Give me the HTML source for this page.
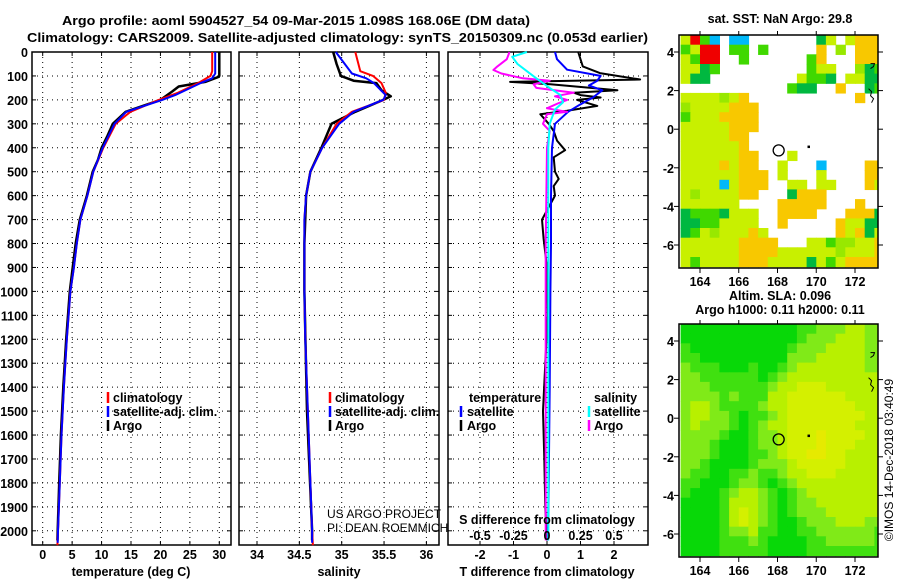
<!DOCTYPE html>
<html><head><meta charset="utf-8">
<style>
html,body{margin:0;padding:0;background:#fff;}
svg{display:block;font-family:"Liberation Sans",Arial,sans-serif;}
.b{font-weight:bold;font-size:12.5px;fill:#000;}
</style></head>
<body>
<svg id="fig" width="900" height="580" viewBox="0 0 900 580" xmlns="http://www.w3.org/2000/svg">
<text class="b" x="62" y="25" textLength="468" lengthAdjust="spacingAndGlyphs">Argo profile: aoml 5904527_54 09-Mar-2015 1.098S 168.06E (DM data)</text>
<text class="b" x="27" y="42" textLength="621" lengthAdjust="spacingAndGlyphs">Climatology: CARS2009. Satellite-adjusted climatology: synTS_20150309.nc (0.053d earlier)</text>
<g id="plots"></g>
<g id="maps"></g>
<text x="893" y="460" font-size="12" text-anchor="middle" transform="rotate(-90 893 460)">©IMOS 14-Dec-2018 03:40:49</text>
</svg>
<script>
// ---------- data ----------
const depthTicks = [0,100,200,300,400,500,600,700,800,900,1000,1100,1200,1300,1400,1500,1600,1700,1800,1900,2000];
const tempTicks = [0,5,10,15,20,25,30];
const salTicks = [34,34.5,35,35.5,36];
const salTickLabels = ['34','34.5','35','35.5','36'];
const tdiffTicks = [-2,-1,0,1,2];
const sdiffTicks = [-0.5,-0.25,0,0.25,0.5];
const sdiffTickLabels = ['-0.5','-0.25','0','0.25','0.5'];

const climDepth = [0,80,100,130,170,200,250,300,400,500,600,700,800,900,1000,1200,1400,1600,1800,2000,2060];
const climTemp  = [28.8,28.8,28.5,26.4,23.0,19.7,14.9,12.4,10.3,8.6,7.6,6.4,5.8,5.3,4.7,4.1,3.6,3.2,2.9,2.6,2.5];
const climSal   = [35.16,35.22,35.37,35.47,35.52,35.50,35.12,34.94,34.77,34.63,34.58,34.56,34.56,34.56,34.56,34.57,34.59,34.61,34.63,34.65,34.66];

const satDepth = [0,90,110,130,180,200,250,300,400,500,600,700,800,900,1000,1200,1400,1600,1800,2000,2050];
const satTemp  = [29.3,29.3,28.8,26.8,22.5,20.3,14.2,12.2,10.2,8.6,7.6,6.4,5.8,5.3,4.7,4.1,3.6,3.2,2.9,2.6,2.55];
const satSal   = [34.93,35.12,35.29,35.38,35.52,35.49,35.14,34.97,34.77,34.63,34.58,34.56,34.56,34.56,34.56,34.57,34.59,34.61,34.63,34.65,34.65];

const argoDepth = [0,100,105,125,144,165,200,250,300,350,400,450,500,600,700,800,900,1000,1200,1400,1600,1800,2000,2040];
const argoTemp  = [30.0,30.0,29.8,27.6,23.1,22.0,20.0,14.1,11.9,11.0,10.0,9.4,8.5,7.5,6.3,5.6,5.1,4.6,4.0,3.5,3.1,2.8,2.55,2.5];
const argoSalDepth = [0,50,100,120,130,160,185,200,250,300,400,500,600,800,1000,1500,2000,2040];
const argoSal      = [34.90,34.94,34.99,35.14,35.41,35.47,35.58,35.49,35.16,34.88,34.76,34.63,34.58,34.56,34.56,34.59,34.65,34.65];

const tdArgoDepth = [0,60,88,115,125,135,160,170,180,190,200,225,245,260,300,330,370,410,440,500,530,560,600,700,780,900,1100,1300,1500,1700,1900,2040];
const tdArgo      = [0.93,1.07,1.58,2.78,-1.1,0.1,2.1,0.8,1.0,1.6,0.9,1.5,0.6,-0.2,0.05,0.2,0.3,0.54,0.2,0.24,0.35,0.2,0.24,-0.15,-0.1,0.0,0.02,-0.05,-0.12,-0.08,-0.05,0.0];
const tdSatDepth = [0,30,74,100,120,140,160,190,220,250,300,400,600,800,1000,1400,1800,2040];
const tdSat      = [0.24,0.3,0.6,1.6,1.5,1.25,1.65,1.37,0.98,0.63,0.24,0.15,0.12,0.12,0.1,0.08,0.05,0.03];
const sdArgoDepth = [0,30,60,75,90,110,120,135,150,170,185,200,215,235,250,260,300,330,400,800,1200,1600,2040];
const sdArgo      = [-0.28,-0.3,-0.37,-0.4,-0.34,-0.18,0.02,-0.1,-0.08,0.2,0.06,0.15,0.08,0.0,0.15,0.0,-0.03,0.02,0.0,-0.01,-0.01,-0.01,-0.01];
const sdSatDepth = [0,20,50,80,110,150,180,210,240,300,400,800,1200,1600,2040];
const sdSat      = [-0.15,-0.26,-0.22,-0.15,-0.08,0.02,0.1,0.12,0.06,0.02,0.01,0.01,0.01,0.01,0.01];

// ---------- helpers ----------
const NS='http://www.w3.org/2000/svg';
function mk(tag,attrs,parent){const e=document.createElementNS(NS,tag);for(const k in attrs)e.setAttribute(k,attrs[k]);parent.appendChild(e);return e;}
const plots=document.getElementById('plots');
const TOP=52, BOT=545;
function yD(d){return TOP + d*0.2394;}
function lin(v0,p0,v1,p1){return v=>p0+(v-v0)*(p1-p0)/(v1-v0);}
const xT=lin(0,42.7,30,219.3);
const xS=lin(34,257,35,341.7);
const xTD=lin(0,547,1,580.5);
const xSD=lin(0,547,0.5,614);

function panel(name,x0,x1,gridX){
  const g=mk('g',{},plots);
  
  
  for(const d of depthTicks){
    const l=mk('line',{x1:x0,x2:x1,y1:yD(d),y2:yD(d),stroke:'#000','stroke-width':1,'stroke-dasharray':'1 4'},g);
    
    
    mk('line',{x1:x0,x2:x0+4,y1:yD(d),y2:yD(d),stroke:'#000'},g);
    mk('line',{x1:x1-4,x2:x1,y1:yD(d),y2:yD(d),stroke:'#000'},g);
  }
  for(const gx of gridX){
    const l=mk('line',{x1:gx,x2:gx,y1:TOP,y2:BOT,stroke:'#000','stroke-width':1,'stroke-dasharray':'1 4'},g);
    
    
    mk('line',{x1:gx,x2:gx,y1:BOT-4,y2:BOT,stroke:'#000'},g);
    mk('line',{x1:gx,x2:gx,y1:TOP,y2:TOP+4,stroke:'#000'},g);
  }
  const r=mk('rect',{x:x0,y:TOP,width:x1-x0,height:BOT-TOP,fill:'none',stroke:'#000','stroke-width':1.5},g);
  
  
  return g;
}
function line(g,name,xs,ds,fx,color,w){
  const pts=xs.map((v,i)=>fx(v).toFixed(1)+','+yD(ds[i]).toFixed(1)).join(' ');
  const p=mk('polyline',{points:pts,fill:'none',stroke:color,'stroke-width':w,'stroke-linejoin':'round'},g);
  
  
}
function text(g,name,x,y,s,opts){
  const t=mk('text',Object.assign({x:x,y:y,class:'b'},opts||{}),g);
  t.textContent=s;
  
  
  return t;
}
function legBar(g,x,y,color){
  const b=mk('line',{x1:x,x2:x,y1:y-10,y2:y+1,stroke:color,'stroke-width':2.5},g);
  
  
}

// depth labels
const yl=mk('g',{},plots);


for(const d of depthTicks){
  const t=text(yl,'depth-tick-label',28,yD(d)+5,String(d),{'text-anchor':'end'});
}

// panel 1: temperature
const p1=panel('temperature-panel',32,231,tempTicks.map(xT));
line(p1,'argo-temperature-line',argoTemp,argoDepth,xT,'#000',2.5);
line(p1,'climatology-temperature-line',climTemp,climDepth,xT,'#f00',2);
line(p1,'satellite-temperature-line',satTemp,satDepth,xT,'#00f',2);
tempTicks.forEach(v=>text(p1,'temperature-tick-label',xT(v),559,String(v),{'text-anchor':'middle'}));
text(p1,'temperature-axis-title',131,576,'temperature (deg C)',{'text-anchor':'middle'});
legBar(p1,108,402,'#f00');text(p1,'legend-climatology',113,402,'climatology');
legBar(p1,108,416,'#00f');text(p1,'legend-satellite-adj',113,416,'satellite-adj. clim.');
legBar(p1,108,430,'#000');text(p1,'legend-argo',113,430,'Argo');

// panel 2: salinity
const p2=panel('salinity-panel',239,439,salTicks.map(xS));
line(p2,'argo-salinity-line',argoSal,argoSalDepth,xS,'#000',2.5);
line(p2,'climatology-salinity-line',climSal,climDepth,xS,'#f00',2);
line(p2,'satellite-salinity-line',satSal,satDepth,xS,'#00f',2);
salTicks.forEach((v,i)=>text(p2,'salinity-tick-label',xS(v),559,salTickLabels[i],{'text-anchor':'middle'}));
text(p2,'salinity-axis-title',339,576,'salinity',{'text-anchor':'middle'});
legBar(p2,330,402,'#f00');text(p2,'legend-climatology',335,402,'climatology');
legBar(p2,330,416,'#00f');text(p2,'legend-satellite-adj',335,416,'satellite-adj. clim.');
legBar(p2,330,430,'#000');text(p2,'legend-argo',335,430,'Argo');

// panel 3: differences
const p3=panel('difference-panel',448,648,tdiffTicks.map(xTD));
line(p3,'argo-t-diff-line',tdArgo,tdArgoDepth,xTD,'#000',2);
line(p3,'satellite-t-diff-line',tdSat,tdSatDepth,xTD,'#00f',2);
line(p3,'argo-s-diff-line',sdArgo,sdArgoDepth,xSD,'#f0f',2);
line(p3,'satellite-s-diff-line',sdSat,sdSatDepth,xSD,'#0ff',2);
tdiffTicks.forEach(v=>text(p3,'t-diff-tick-label',xTD(v),559,String(v),{'text-anchor':'middle'}));
sdiffTicks.forEach((v,i)=>text(p3,'s-diff-tick-label',xSD(v),540,sdiffTickLabels[i],{'text-anchor':'middle'}));
text(p3,'s-diff-axis-title',547,524,'S difference from climatology',{'text-anchor':'middle'});
text(p3,'t-diff-axis-title',547,576,'T difference from climatology',{'text-anchor':'middle'});
text(p3,'legend-temperature-header',469,402,'temperature');
legBar(p3,461,416,'#00f');text(p3,'legend-t-satellite',467,416,'satellite');
legBar(p3,461,430,'#000');text(p3,'legend-t-argo',467,430,'Argo');
text(p3,'legend-salinity-header',594,402,'salinity');
legBar(p3,589,416,'#0ff');text(p3,'legend-s-satellite',594,416,'satellite');
legBar(p3,589,430,'#f0f');text(p3,'legend-s-argo',594,430,'Argo');
const us=mk('text',{x:327,y:518,'font-size':12},plots);us.textContent='US ARGO PROJECT';


const pi=mk('text',{x:327,y:532,'font-size':12},plots);pi.textContent='PI: DEAN ROEMMICH';



// ---------- maps ----------
const sstGrid = [
"yrgc.cc.......Gy.yooo",
"gyrr.gg.g.....o.l.ooo",
"ygrr..g......go...ooo",
"yyGg.........gyy..lGg",
"yGG.........yggG.yyGG",
"...........gGG..o..Gg",
"yyyylyo...........o..",
"lyyyyooo.............",
"gyyyoooo.............",
"yyyyyooo.............",
"yyyyyoo..............",
"yyyyyyo..............",
"yyyyyyoo...y.........",
"yyyyoyoo..y...c....oo",
"yyyyyyooo.y...y....oo",
"yyyycyooo..yy.yy...oy",
"ylyyyyoo...Gooo......",
"yyyyyy....ooooo...o..",
"GgggGyyy..oooo...oooG",
"GGggyyyy..o.....oyyGG",
"Ggylyyyoy.......oyoGy",
"yyyyyyoooo...yygllyyo",
"yyyyyyooooyyyyyylyyyo",
"ygyyyyoooyyyyGygyoooo"];
const slaGrid = [
"GGGGGGGGGGGGgglllyyll",
"GGGGGGGGGGGGglllyyyll",
"gGGGGGGGGGGglllyyyyll",
"ggGGGGGGGGGlllyyyyyll",
"lgggGGGgGGglyyyyyyyll",
"llggggggGglyyyyyyyyyy",
"lllgggggglyyYYYyyyyyy",
"llllglgggyyYYYYYYyyyy",
"lyylgggglyyYYYYYYYyyy",
"lyyllgGgglyYYYYYYYYyy",
"lylllgGglyyYYYYYYYyyy",
"llllgGGgllyYYYoYYYYyy",
"lllgGGGgllyYYYoYYYyyy",
"lllgGGGgglyYYooYYyyyy",
"llgGGGGglllyYYYYYyyyy",
"lggGGgglgglyyYYYyyyyy",
"ggGGGgllgGglyyyyyyyyy",
"gGGGglyylgGglyyyyyyyy",
"GGGGgyyylgGgllyyyyyyy",
"GGGGgyYylgGglllyyyyyy",
"GGGGgyYylgGGglllyyyll",
"GGGGgllyggGGggllllllg",
"GGGGggglgGGGGgglllllg",
"GGGGgggggGGGGgggggggg"];
const sstColors = {y:'#c8f000',o:'#f8c800',g:'#40d800',G:'#00b840',l:'#98e800',r:'#f00000',c:'#00b8f8'};
const slaColors = {G:'#08d808',g:'#40e010',l:'#80ea18',y:'#b8f000',Y:'#d4f000',o:'#e6ea00'};
const lonTicks=[164,166,168,170,172];
const latTicks=[4,2,0,-2,-4,-6];
const argoLon=168.06, argoLat=-1.098;
const maps=document.getElementById('maps');
function mapX(lon){return 700+(lon-164)*19.375;}
function drawMap(name,top,grid,colors){
  const g=mk('g',{},maps);
  
  
  const yL=lat=>top+17+(4-lat)*19.3;
  const cw=19.375/2, ch=19.3/2;
  const clip=mk('clipPath',{id:name+'-clip'},g);
  mk('rect',{x:679,y:top,width:199,height:233},clip);
  const cells=mk('g',{'clip-path':'url(#'+name+'-clip)'},g);
  grid.forEach((row,r)=>{
    [...row].forEach((c,k)=>{
      if(c==='.')return;
      const lat=4.88-r*0.5, lon=163+k*0.5;
      const cell=mk('rect',{x:mapX(lon).toFixed(1),y:yL(lat).toFixed(1),width:cw+0.6,height:ch+0.6,fill:colors[c]},cells);
      
      
    });
  });
  const fr=mk('rect',{x:679,y:top,width:199,height:233,fill:'none',stroke:'#000','stroke-width':1.5},g);
  
  
  lonTicks.forEach(l=>{
    mk('line',{x1:mapX(l),x2:mapX(l),y1:top+233,y2:top+238,stroke:'#000'},g);
    mk('line',{x1:mapX(l),x2:mapX(l),y1:top-4,y2:top,stroke:'#000'},g);
    text(g,'lon-tick-label',mapX(l),top+251,String(l),{'text-anchor':'middle'});
  });
  latTicks.forEach(l=>{
    mk('line',{x1:674,x2:679,y1:yL(l),y2:yL(l),stroke:'#000'},g);
    mk('line',{x1:878,x2:883,y1:yL(l),y2:yL(l),stroke:'#000'},g);
    text(g,'lat-tick-label',674,yL(l)+5,String(l),{'text-anchor':'end'});
  });
  const c=mk('circle',{cx:mapX(argoLon),cy:yL(argoLat),r:5.5,fill:'none',stroke:'#000','stroke-width':1.3},g);
  
  
  mk('rect',{x:mapX(169.6)-1,y:yL(-0.9)-1,width:2.5,height:2.5,fill:'#000'},g);
  mk('path',{d:`M${mapX(172.7)} ${yL(2.1)} l3 3 l-1 4 l3 3 l-2 4`,fill:'none',stroke:'#000','stroke-width':1},g);
  mk('path',{d:`M${mapX(172.8)} ${yL(3.4)} l4 0 l-1 3 l-3 2`,fill:'none',stroke:'#000','stroke-width':1},g);
  return g;
}
drawMap('sst-map',35,sstGrid,sstColors);
drawMap('sla-map',324,slaGrid,slaColors);
text(maps,'sst-map-title',780,23,'sat. SST: NaN Argo: 29.8',{'text-anchor':'middle'});
text(maps,'sla-map-title',780,300,'Altim. SLA: 0.096',{'text-anchor':'middle'});
text(maps,'sla-map-subtitle',780,314,'Argo h1000: 0.11 h2000: 0.11',{'text-anchor':'middle'});
</script>
</body></html>
